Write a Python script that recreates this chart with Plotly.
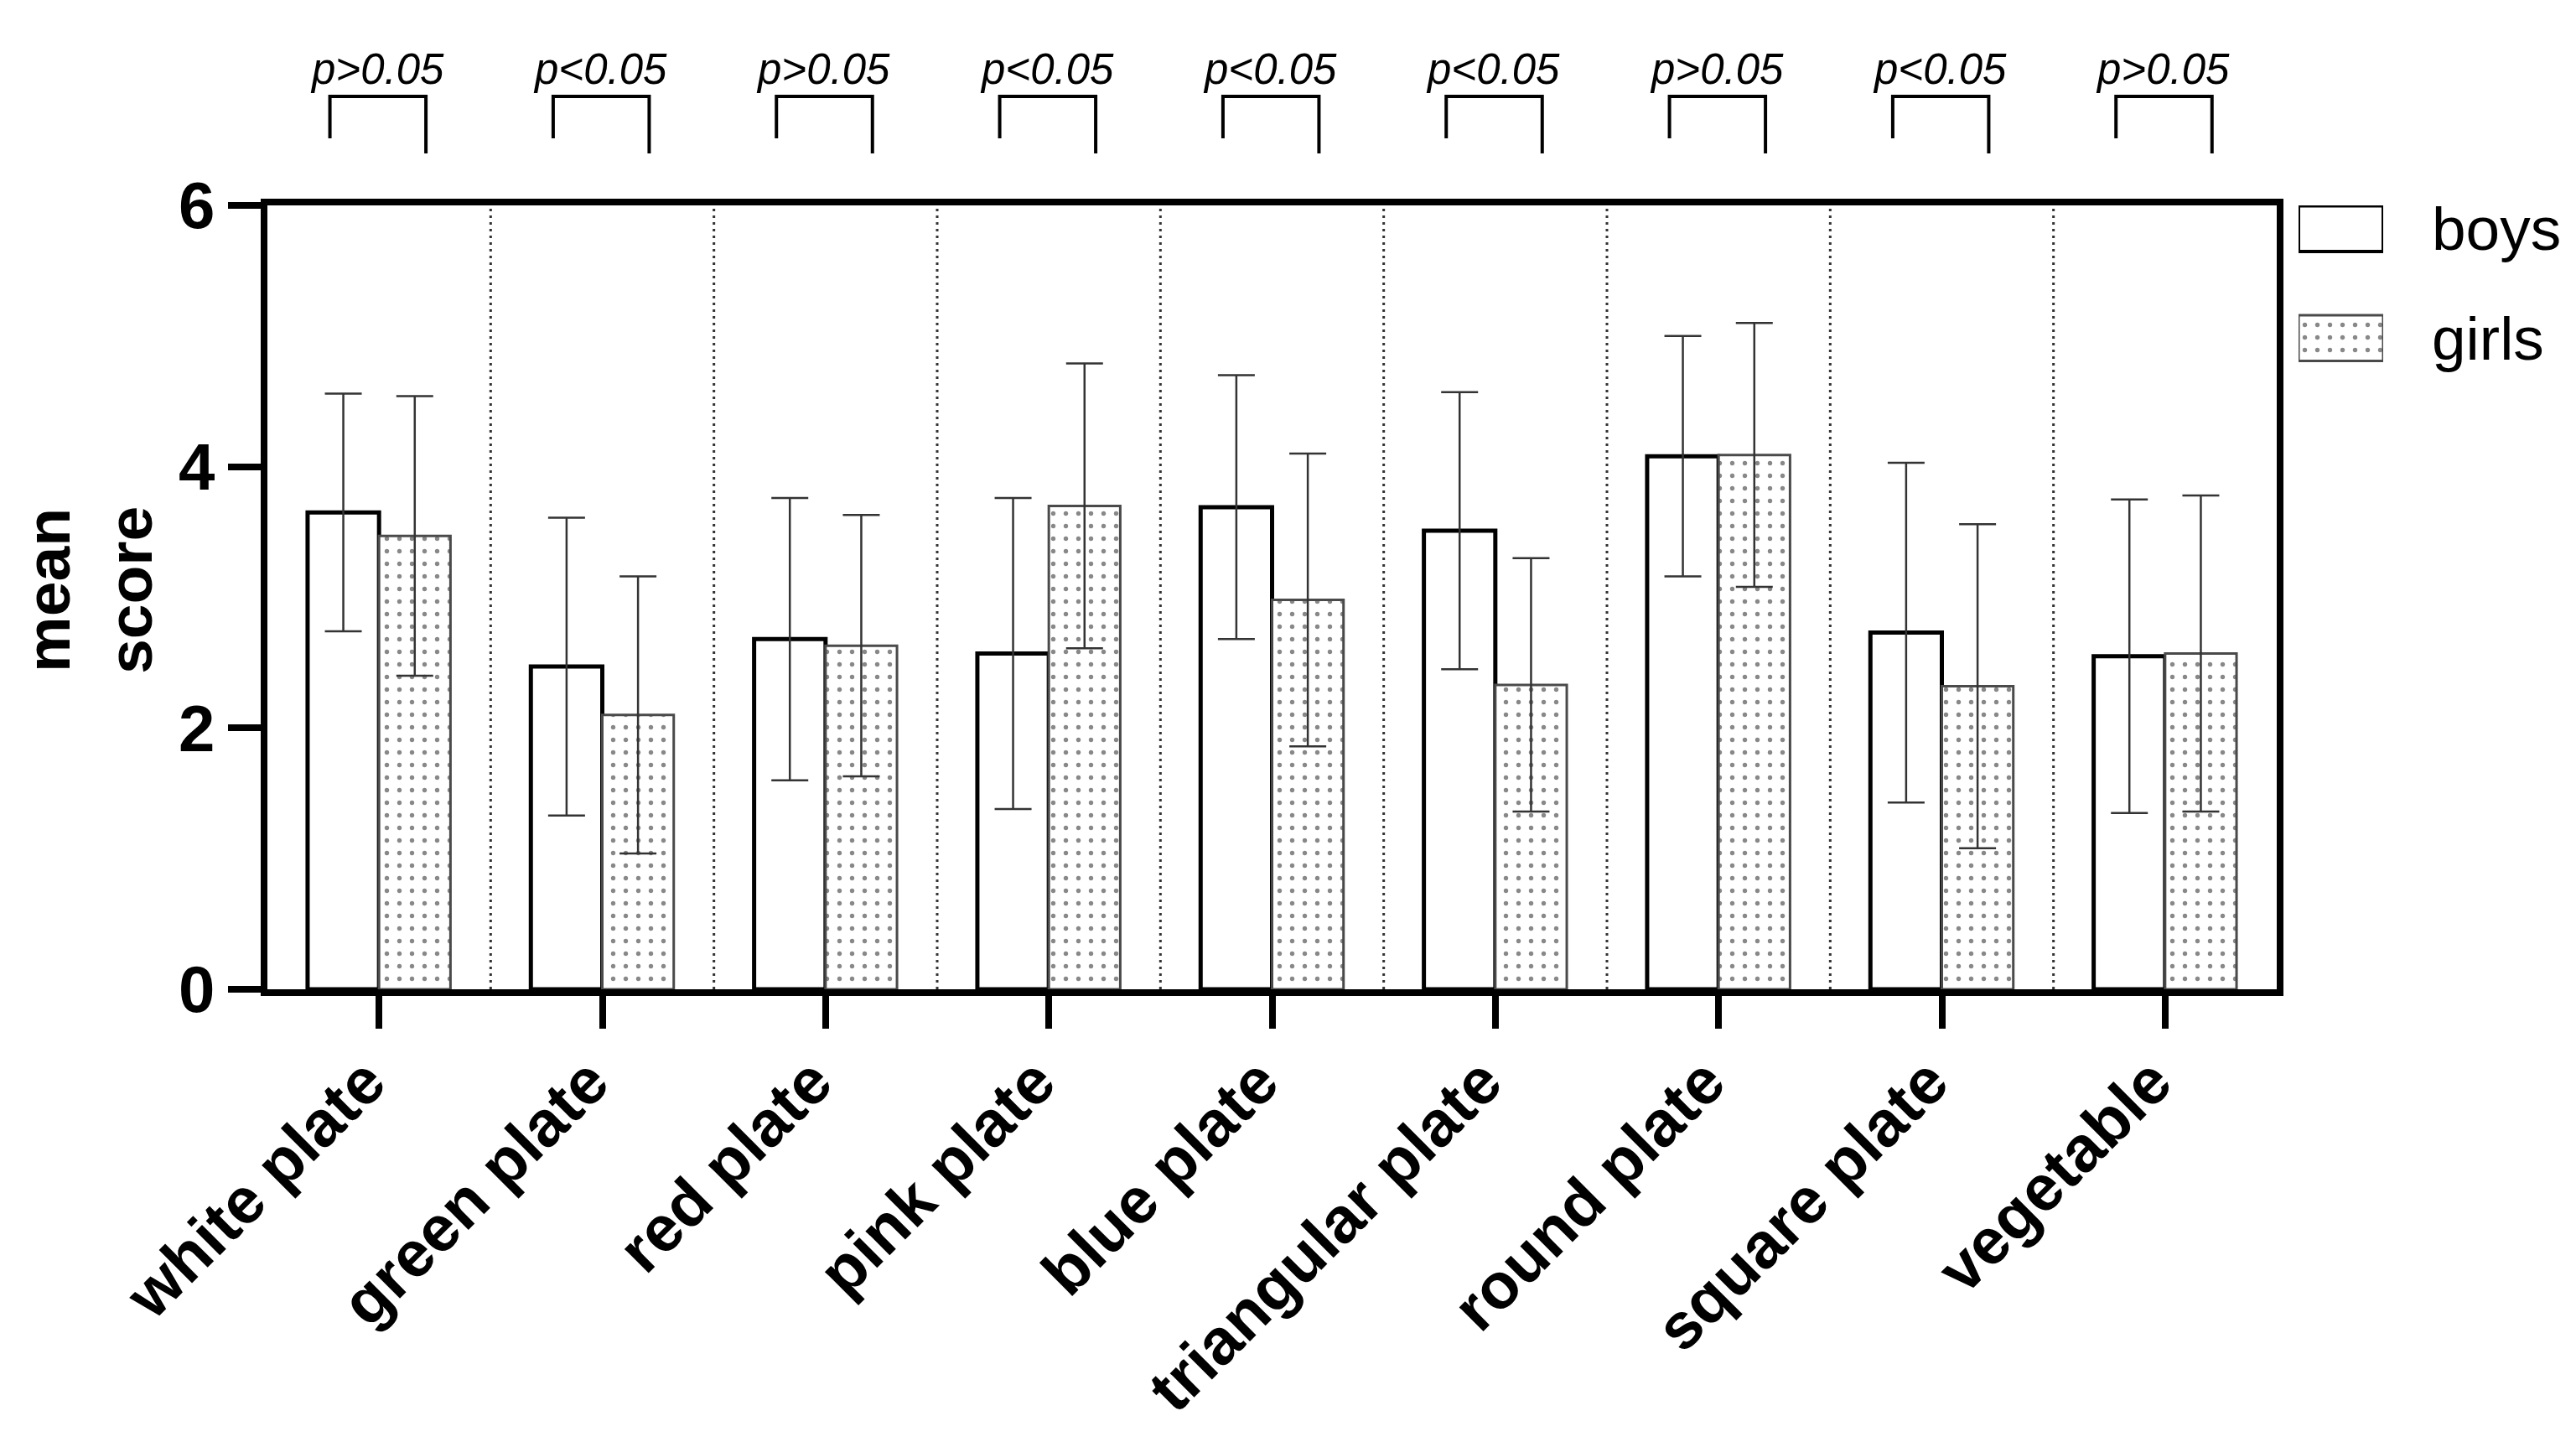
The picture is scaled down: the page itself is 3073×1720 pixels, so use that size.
import plotly.graph_objects as go

# ---------------- data ----------------
categories = ["white plate", "green plate", "red plate", "pink plate", "blue plate",
              "triangular plate", "round plate", "square plate", "vegetable"]
boys_mean = [3.65, 2.47, 2.68, 2.57, 3.69, 3.51, 4.08, 2.73, 2.55]
boys_sd = [0.91, 1.14, 1.08, 1.19, 1.01, 1.06, 0.92, 1.30, 1.20]
girls_mean = [3.47, 2.10, 2.63, 3.70, 2.98, 2.33, 4.09, 2.32, 2.57]
girls_sd = [1.07, 1.06, 1.00, 1.09, 1.12, 0.97, 1.01, 1.24, 1.21]
p_labels = ["p>0.05", "p<0.05", "p>0.05", "p<0.05", "p<0.05",
            "p<0.05", "p>0.05", "p<0.05", "p>0.05"]
y_ticks = [0, 2, 4, 6]
series_names = ["boys", "girls"]
y_title = "mean<br>score"

# ---------------- layout geometry (pixels) ----------------
W, H = 3073, 1720
ML, MR, MT, MB = 319, 0, 245, 540
PLOT_RIGHT = 2716
pw = W - ML - MR
ph = H - MT - MB
xdom_end = (PLOT_RIGHT - ML) / pw


def py2paper(py):
    return (H - MB - py) / ph


def px2paper(px):
    return (px - ML) / pw


FONT = "Liberation Sans, Arial, Helvetica, sans-serif"
DOT = dict(shape=".", fgcolor="#111111", bgcolor="white", size=15, solidity=0.1)

x_idx = list(range(len(categories)))
tick_text = [c + "\u00a0" for c in categories]

fig = go.Figure()
fig.add_trace(go.Bar(
    name=series_names[0], x=x_idx, y=boys_mean,
    marker=dict(color="white", line=dict(color="black", width=5)),
    error_y=dict(type="data", array=boys_sd, visible=True, color="#333333",
                 thickness=2.5, width=22),
    showlegend=False,
))
fig.add_trace(go.Bar(
    name=series_names[1], x=x_idx, y=girls_mean,
    marker=dict(color="white", line=dict(color="#4a4a4a", width=3), pattern=DOT),
    error_y=dict(type="data", array=girls_sd, visible=True, color="#333333",
                 thickness=2.5, width=22),
    showlegend=False,
))

# legend swatches drawn as a tiny bar subplot
fig.add_trace(go.Bar(
    x=[1, 1], y=[1, 0], base=0, orientation="h", xaxis="x2", yaxis="y2",
    width=0.418, cliponaxis=False, hoverinfo="skip", showlegend=False,
    marker=dict(color="white", line=dict(color=["black", "#4a4a4a"], width=[4, 3]),
                pattern=dict(shape=["", "."], fgcolor="#111111", bgcolor="white",
                             size=15, solidity=0.1)),
))

shapes = []
# dotted separators between groups
for i in range(len(categories) - 1):
    shapes.append(dict(type="line", xref="x", yref="y", x0=i + 0.5, x1=i + 0.5,
                       y0=0, y1=y_ticks[-1], layer="below",
                       line=dict(color="#333333", width=3, dash="3px,5px")))

# significance brackets
yt = py2paper(115)
yl = py2paper(165)
yr = py2paper(183)
for i in range(len(categories)):
    a, b = i - 0.22, i + 0.21
    shapes.append(dict(type="path", xref="x", yref="paper",
                       path=f"M {a},{yl} L {a},{yt} L {b},{yt} L {b},{yr}",
                       line=dict(color="black", width=4)))

annotations = []
for i, lab in enumerate(p_labels):
    txt = lab.replace("<", "&lt;").replace(">", "&gt;")
    annotations.append(dict(x=i - 0.01, y=py2paper(83), xref="x", yref="paper",
                            text=f"<i>{txt}</i>", showarrow=False,
                            xanchor="center", yanchor="middle",
                            font=dict(family=FONT, size=51, color="black")))

annotations.append(dict(x=px2paper(106), y=py2paper(704), xref="paper", yref="paper",
                        text=y_title, textangle=-90, showarrow=False,
                        xanchor="center", yanchor="middle",
                        font=dict(family=FONT, size=75, color="black", weight="bold")))

for name, yv in zip(series_names, [1, 0]):
    annotations.append(dict(x=px2paper(2899), y=yv, xref="paper", yref="y2",
                            text=name, showarrow=False, xanchor="left", yanchor="middle",
                            font=dict(family=FONT, size=73, color="black")))

fig.update_layout(
    width=W, height=H,
    margin=dict(l=ML, r=MR, t=MT, b=MB, pad=0),
    paper_bgcolor="white", plot_bgcolor="white",
    font=dict(family=FONT, color="black"),
    barmode="group", bargap=0.36, bargroupgap=0,
    showlegend=False,
    shapes=shapes, annotations=annotations,
    xaxis=dict(domain=[0, xdom_end], range=[-0.5, len(categories) - 0.5],
               tickvals=x_idx, ticktext=tick_text, tickangle=-45,
               ticks="outside", ticklen=39, tickwidth=8, tickcolor="black",
               ticklabelstandoff=-28,
               showline=True, linewidth=8, linecolor="black", mirror=True,
               showgrid=False, zeroline=False, automargin=False,
               tickfont=dict(family=FONT, size=77, color="black", weight="bold")),
    yaxis=dict(domain=[0, 1], range=[y_ticks[0], y_ticks[-1]], tickvals=y_ticks,
               ticks="outside", ticklen=39, tickwidth=8, tickcolor="black",
               showline=True, linewidth=8, linecolor="black", mirror=True,
               showgrid=False, zeroline=False, automargin=False,
               tickfont=dict(family=FONT, size=78, color="black", weight="bold")),
    xaxis2=dict(domain=[px2paper(2742), px2paper(2843)], anchor="y2", range=[0, 1],
                visible=False, fixedrange=True),
    yaxis2=dict(domain=[py2paper(500), 1.0], anchor="x2", range=[-0.741, 1.213],
                visible=False, fixedrange=True),
)

fig.write_html("out.html", config={"displayModeBar": False},
               post_script="document.body.style.margin='0px';")
